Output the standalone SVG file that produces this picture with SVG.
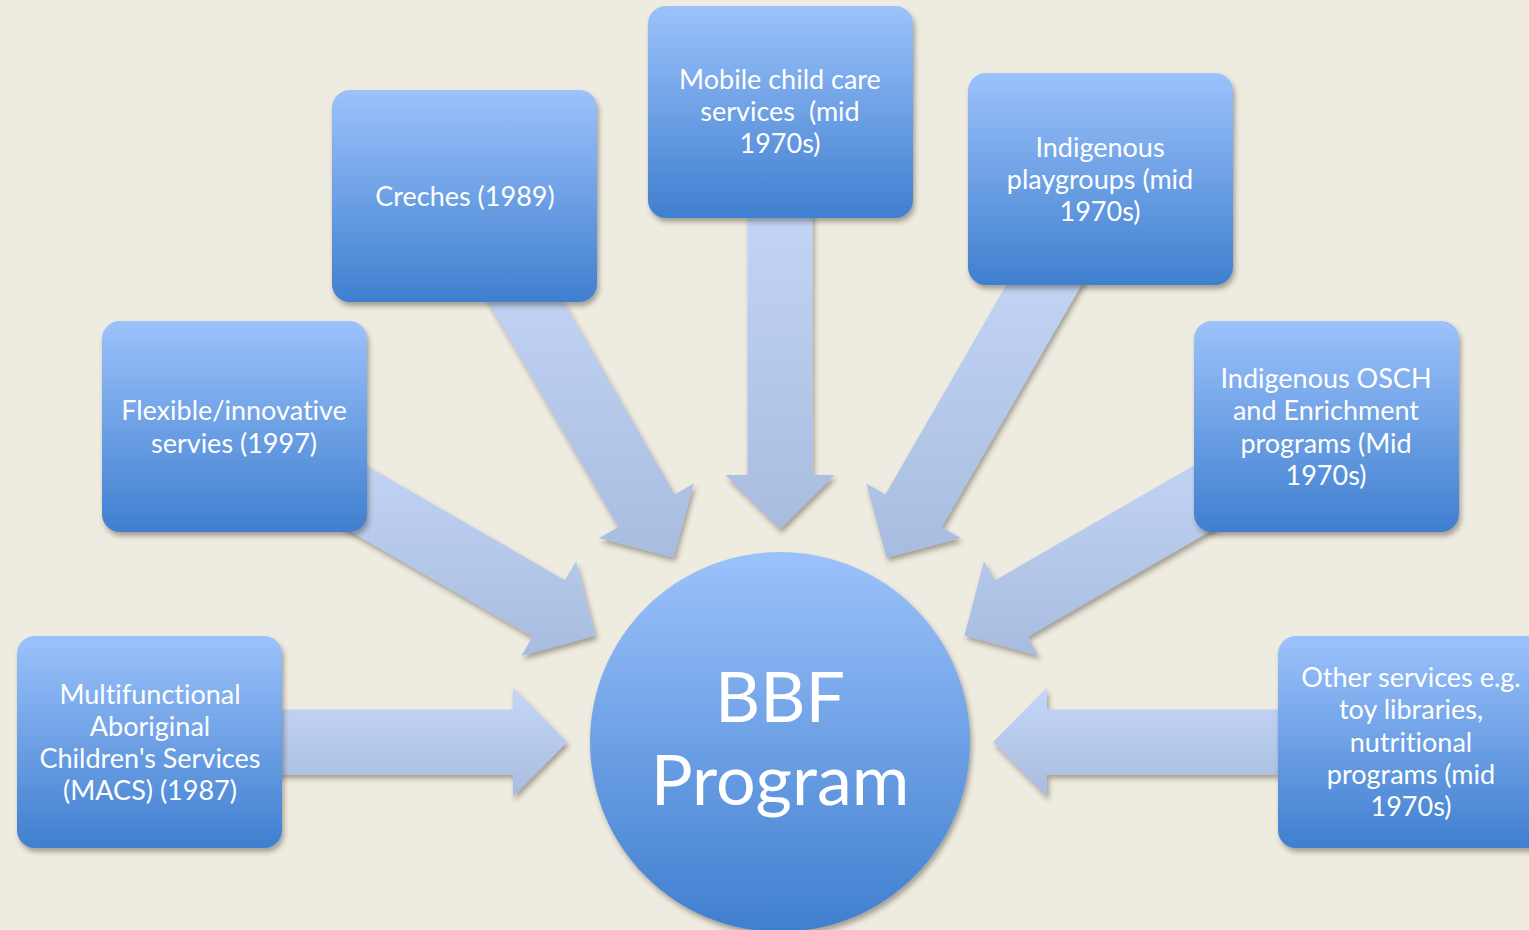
<svg xmlns="http://www.w3.org/2000/svg" width="1529" height="930" viewBox="0 0 1529 930">
<defs>
<linearGradient id="gBox" x1="0" y1="0" x2="0" y2="1">
<stop offset="0" stop-color="#9CC2FB"/>
<stop offset="1" stop-color="#3F7FCF"/>
</linearGradient>
<linearGradient id="gArr" x1="0" y1="0" x2="0" y2="1">
<stop offset="0" stop-color="#C4D7F8"/>
<stop offset="1" stop-color="#A8BCDF"/>
</linearGradient>
<filter id="sh" x="-20%" y="-20%" width="140%" height="140%">
<feDropShadow dx="2" dy="4" stdDeviation="2.5" flood-color="#3a3020" flood-opacity="0.4"/>
</filter>
<style>
.box{fill:url(#gBox);filter:url(#sh)}
.arr{fill:url(#gArr);filter:url(#sh)}
.t{font-family:Lato,"Open Sans",sans-serif;font-size:27px;fill:#fff;text-anchor:middle;dominant-baseline:central;font-variant-ligatures:none}
.big{font-family:Lato,"Open Sans",sans-serif;font-size:70px;fill:#fff;text-anchor:middle}
</style>
</defs>
<rect width="1529" height="930" fill="#EEEBE0"/>
<g id="connectors">
<polygon class="arr" points="567,742 513,687.5 513,709.5 220,709.5 220,774.5 513,774.5 513,796.5"/>
<polygon class="arr" points="595.54,635.5 576.03,561.30 565.03,580.35 311.28,433.85 278.78,490.15 532.53,636.65 521.53,655.70"/>
<polygon class="arr" points="673.5,557.54 693.70,483.53 674.65,494.53 528.15,240.78 471.85,273.28 618.35,527.03 599.30,538.03"/>
<polygon class="arr" points="780,529 834.5,475 812.5,475 812.5,182 747.5,182 747.5,475 725.5,475"/>
<polygon class="arr" points="886.5,557.54 960.70,538.03 941.65,527.03 1088.15,273.28 1031.85,240.78 885.35,494.53 866.30,483.53"/>
<polygon class="arr" points="964.46,635.5 1038.47,655.70 1027.47,636.65 1281.22,490.15 1248.72,433.85 994.97,580.35 983.97,561.30"/>
<polygon class="arr" points="993,742 1047,796.5 1047,774.5 1340,774.5 1340,709.5 1047,709.5 1047,687.5"/>
</g>
<g id="bbf">
<circle cx="780" cy="742" r="190" class="box"/>
<text class="big" x="780" y="722">BBF</text>
<text class="big" x="780" y="805">Program</text>
</g>
<g id="macs">
<rect class="box" x="17" y="636" width="265" height="212" rx="18"/>
<text class="t" x="150" y="693">Multifunctional</text>
<text class="t" x="150" y="725">Aboriginal</text>
<text class="t" x="150" y="757">Children's Services</text>
<text class="t" x="150" y="789">(MACS) (1987)</text>
</g>
<g id="flexible">
<rect class="box" x="102" y="321" width="265" height="211" rx="18"/>
<text class="t" x="234" y="409">Flexible/innovative</text>
<text class="t" x="234" y="442">servies (1997)</text>
</g>
<g id="creches">
<rect class="box" x="332" y="90" width="265" height="212" rx="18"/>
<text class="t" x="465" y="195">Creches (1989)</text>
</g>
<g id="mobile">
<rect class="box" x="648" y="6" width="265" height="212" rx="18"/>
<text class="t" x="780" y="78">Mobile child care</text>
<text class="t" x="780" y="110">services&#160; (mid</text>
<text class="t" x="780" y="142">1970s)</text>
</g>
<g id="playgroups">
<rect class="box" x="968" y="73" width="265" height="212" rx="18"/>
<text class="t" x="1100" y="146">Indigenous</text>
<text class="t" x="1100" y="178">playgroups (mid</text>
<text class="t" x="1100" y="210">1970s)</text>
</g>
<g id="osch">
<rect class="box" x="1194" y="321" width="265" height="211" rx="18"/>
<text class="t" x="1326" y="377">Indigenous OSCH</text>
<text class="t" x="1326" y="409">and Enrichment</text>
<text class="t" x="1326" y="442">programs (Mid</text>
<text class="t" x="1326" y="474">1970s)</text>
</g>
<g id="other">
<rect class="box" x="1278" y="636" width="265" height="212" rx="18"/>
<text class="t" x="1411" y="676">Other services e.g.</text>
<text class="t" x="1411" y="708">toy libraries,</text>
<text class="t" x="1411" y="741">nutritional</text>
<text class="t" x="1411" y="773">programs (mid</text>
<text class="t" x="1411" y="805">1970s)</text>
</g>
</svg>
